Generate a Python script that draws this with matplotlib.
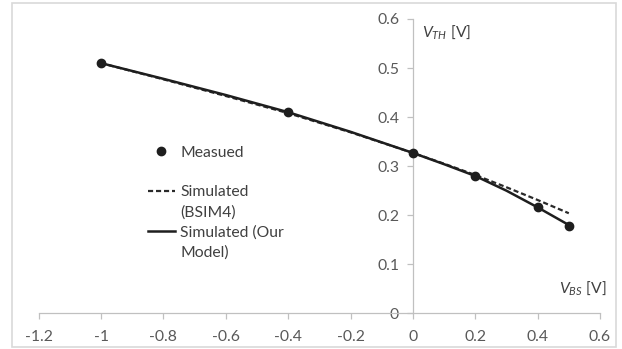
import matplotlib
matplotlib.use("Agg")
import matplotlib.pyplot as plt
from matplotlib.lines import Line2D
from matplotlib.patches import Rectangle

plt.rcParams['font.family'] = ['Lato', 'DejaVu Sans']
plt.rcParams['mathtext.fontset'] = 'custom'
plt.rcParams['mathtext.it'] = 'Lato:italic'
plt.rcParams['mathtext.rm'] = 'Lato'

# Data
vbs_measured = [-1.0, -0.4, 0.0, 0.2, 0.4, 0.5]
vth_measured = [0.510, 0.410, 0.327, 0.280, 0.216, 0.179]

vbs_sim = [-1.0, -0.8, -0.6, -0.4, -0.2, 0.0, 0.1, 0.2, 0.3, 0.4, 0.5]
vth_bsim4 = [0.510, 0.477, 0.443, 0.408, 0.369, 0.327, 0.305, 0.282, 0.257, 0.231, 0.204]
vth_model = [0.510, 0.478, 0.445, 0.410, 0.370, 0.327, 0.304, 0.280, 0.250, 0.216, 0.180]

x_ticks = [-1.2, -1.0, -0.8, -0.6, -0.4, -0.2, 0.0, 0.2, 0.4, 0.6]
x_ticklabels = ['-1.2', '-1', '-0.8', '-0.6', '-0.4', '-0.2', '0', '0.2', '0.4', '0.6']
y_ticks = [0.0, 0.1, 0.2, 0.3, 0.4, 0.5, 0.6]
y_ticklabels = ['0', '0.1', '0.2', '0.3', '0.4', '0.5', '0.6']

W, H = 622, 349
fig = plt.figure(figsize=(W / 100, H / 100), dpi=100)
ax = fig.add_axes([38.7 / W, (H - 313.3) / H, (600 - 38.7) / W, (313.3 - 19) / H])

FS = 11.3
line_col = '#1e1e1e'
dash = (0, (2.3, 1.3))
ax.plot(vbs_sim, vth_bsim4, color='#2a2a2a', lw=1.6, ls=dash, zorder=2)
ax.plot(vbs_sim, vth_model, color=line_col, lw=1.8, zorder=3)
ax.plot(vbs_measured, vth_measured, ls='none', marker='o', ms=6, color=line_col, zorder=4)

ax.set_xlim(-1.2, 0.6)
ax.set_ylim(0, 0.6)

spine_col = '#c0c0c0'
for s in ['top', 'right']:
    ax.spines[s].set_visible(False)
ax.spines['left'].set_position(('data', 0))
ax.spines['left'].set_color(spine_col)
ax.spines['bottom'].set_color(spine_col)
ax.spines['left'].set_linewidth(0.9)
ax.spines['bottom'].set_linewidth(0.9)

ax.set_xticks(x_ticks)
ax.set_xticklabels(x_ticklabels)
ax.set_yticks(y_ticks)
ax.set_yticklabels(y_ticklabels)
ax.tick_params(axis='both', colors=spine_col, labelcolor='#595959', labelsize=FS,
               length=4, width=0.9, direction='out')
ax.tick_params(axis='x', pad=8)
ax.tick_params(axis='y', pad=6)

ax.text(0.03, 0.573, r'$V_{TH}$ [V]', fontsize=FS, color='#404040', ha='left', va='center')
ax.text(0.62, 0.052, r'$V_{BS}$ [V]', fontsize=FS, color='#404040', ha='right', va='center')

handles = [
    Line2D([], [], ls='none', marker='o', ms=6, color=line_col),
    Line2D([], [], color='none'),
    Line2D([], [], color='#2a2a2a', lw=1.6, ls=dash),
    Line2D([], [], color='none'),
    Line2D([], [], color=line_col, lw=1.8),
    Line2D([], [], color='none'),
]
labels = ['Measued', ' ', 'Simulated', '(BSIM4)', 'Simulated (Our', 'Model)']
leg = ax.legend(handles, labels, loc='upper left', bbox_to_anchor=(147.5 / W, (H - 145.5) / H),
                bbox_transform=fig.transFigure, frameon=False, fontsize=FS,
                handlelength=1.78, handletextpad=0.3, labelspacing=0.37,
                borderaxespad=0, borderpad=0, labelcolor='#404040')

fig.add_artist(Rectangle((12 / W, 2 / H), (616 - 12) / W, (347 - 3) / H,
                         transform=fig.transFigure, fill=False, edgecolor='#d9d9d9', lw=1.2))

fig.savefig('out.png', dpi=100)
